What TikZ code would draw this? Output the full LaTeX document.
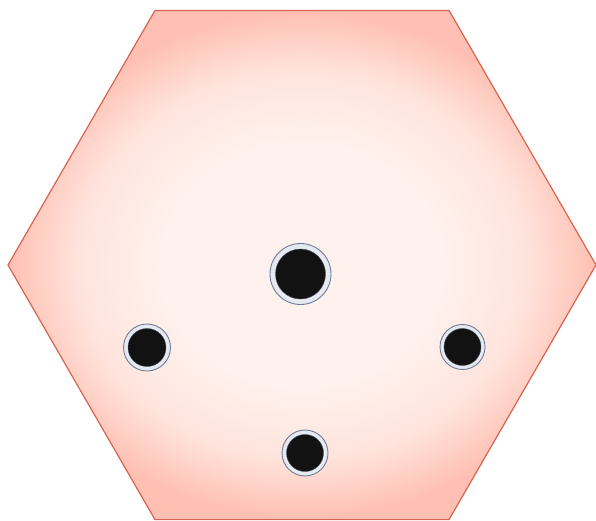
\documentclass[tikz,border=0pt]{standalone}
\usetikzlibrary{shadings}
\definecolor{hexedge}{HTML}{D9644F}
\definecolor{hexin}{HTML}{FFF1ED}
\definecolor{hexmid}{HTML}{FFE4DD}
\definecolor{hexout}{HTML}{FFBFB2}
\definecolor{ringedge}{HTML}{6E7E98}
\definecolor{ringfill}{HTML}{E4E7EE}
\definecolor{holefill}{HTML}{121212}
\pgfdeclareradialshading{hexshade}{\pgfpoint{0bp}{0bp}}{%
  color(0bp)=(hexin); color(12bp)=(hexin); color(19bp)=(hexmid); color(25bp)=(hexout); color(50bp)=(hexout)}
\tikzset{
  hexagon/.style={draw=hexedge, line width=1.2pt, shading=hexshade},
  ring/.style={circle, draw=ringedge, line width=0.9pt, inner color=white, outer color=ringfill, inner sep=0pt},
  hole/.style={circle, fill=holefill, draw=ringedge!60!black, line width=0.4pt, inner sep=0pt},
}
\begin{document}
\begin{tikzpicture}[x=1pt,y=-1pt]
\useasboundingbox (0,0) rectangle (596,520);
\path[hexagon] (155,10.4) -- (449,10.4) -- (596,265) -- (449,519.6) -- (155,519.6) -- (8,265) -- cycle;
% big centre hole
\node[ring, minimum size=61pt] (c) at (300.5,274) {};
\node[hole, minimum size=50pt] (ch) at (c) {};
% left hole
\node[ring, minimum size=47pt] (l) at (147,347.5) {};
\node[hole, minimum size=38pt] (lh) at (l) {};
% right hole
\node[ring, minimum size=45pt] (r) at (462.5,347) {};
\node[hole, minimum size=37pt] (rh) at (r) {};
% bottom hole
\node[ring, minimum size=46pt] (b) at (305,453) {};
\node[hole, minimum size=37pt] (bh) at (b) {};
\end{tikzpicture}
\end{document}
